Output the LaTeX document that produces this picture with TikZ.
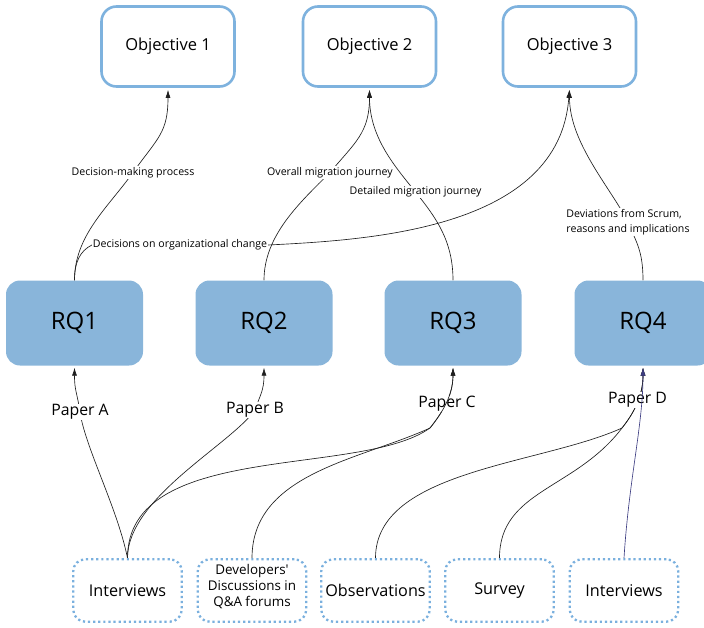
\documentclass[tikz,border=0pt]{standalone}
\usepackage{fontspec}
\setmainfont{Open Sans}[Ligatures=TeXOff]
\usetikzlibrary{arrows.meta}

\definecolor{objline}{RGB}{126,178,222}
\definecolor{rqfill}{RGB}{137,181,218}
\definecolor{srcline}{RGB}{122,176,222}
\definecolor{navyline}{RGB}{62,62,130}

\pgfdeclarelayer{edges}
\pgfsetlayers{edges,main}

\tikzset{
  objbox/.style={draw=objline, line width=2.6pt, rounded corners=15pt, fill=white,
    minimum width=133pt, minimum height=80pt, inner sep=0pt,
    font=\fontsize{16.5}{20}\selectfont},
  rqbox/.style={fill=rqfill, rounded corners=14pt, minimum width=137pt,
    minimum height=85pt, inner sep=0pt, font=\fontsize{24}{28}\selectfont},
  srcbox/.style={draw=srcline, line width=2.3pt, dash pattern=on 2.2pt off 2.9pt,
    rounded corners=12pt, fill=white, minimum width=108.5pt, minimum height=62.5pt,
    inner sep=0pt, align=center, font=\fontsize{16.2}{19}\selectfont},
  smalltext/.style={font=\fontsize{13.4}{16}\selectfont},
  edgelbl/.style={fill=white, inner sep=0.8pt, align=left,
    font=\fontsize{10.6}{15}\selectfont},
  paperlbl/.style={fill=white, inner sep=0.8pt, font=\fontsize{15.8}{18}\selectfont},
  conn/.style={line width=0.65pt, draw=black!88},
  arr/.style={conn, -{Latex[length=8pt,width=5pt]}, shorten >=2pt},
}

\begin{document}
\begin{tikzpicture}[x=1pt,y=1pt]
\useasboundingbox (0,0) rectangle (704,-627);
\clip (0,0) rectangle (704,-627);

% objectives
\node[objbox] (obj1) at (168,-46.5) {Objective 1};
\node[objbox] (obj2) at (369.5,-46.5) {Objective 2};
\node[objbox] (obj3) at (569.5,-46.5) {Objective 3};

% research questions
\node[rqbox] (rq1) at (74.5,-323) {RQ1};
\node[rqbox] (rq2) at (264,-323) {RQ2};
\node[rqbox] (rq3) at (453,-323) {RQ3};
\node[rqbox] (rq4) at (643,-323) {RQ4};

% data sources
\node[srcbox] (src1) at (127.5,-590.5) {Interviews};
\node[srcbox, smalltext] (src2) at (252,-590.5)
  {Developers'\\Discussions in\\Q\&A forums\\[-5pt]\mbox{}};
\node[srcbox] (src3) at (375.5,-590.5) {Observations};
\node[srcbox] (src4) at (499.5,-590.5) {Survey};
\node[srcbox] (src5) at (624,-590.5) {Interviews};

% edge labels
\node[edgelbl] (lDM) at (133,-172.5) {Decision-making process};
\node[edgelbl] (lOC) at (180,-245) {Decisions on organizational change};
\node[edgelbl] (lOM) at (330,-172.5) {Overall migration journey};
\node[edgelbl] (lDT) at (415.5,-192) {Detailed migration journey};
\node[edgelbl] (lDV) at (628,-222) {Deviations from Scrum,\\reasons and implications};
\node[paperlbl] (lPA) at (80,-412) {Paper A};
\node[paperlbl] (lPB) at (255,-410) {Paper B};
\node[paperlbl] (lPC) at (447,-404) {Paper C};
\node[paperlbl] (lPD) at (637.5,-400) {Paper D};

% points where the paper connectors gather
\coordinate (joinC) at (430,-428);
\coordinate (joinD) at (622,-428);

\begin{pgfonlayer}{edges}
  % research questions to objectives
  \draw[arr] (rq1.north) .. controls +(0,45) and +(-25,-35) .. (lDM.center)
    .. controls +(25,35) and +(0,-45) .. (obj1.south);
  \draw[arr] (rq1.north) .. controls +(0,18) and +(-12,-6) .. (lOC.west)
    -- (lOC.east) .. controls +(100,5) and +(-10,-142) .. (obj3.south);
  \draw[arr] (rq2.north) .. controls +(0,45) and +(-30,-30) .. (lOM.center)
    .. controls +(25,30) and +(0,-45) .. (obj2.south);
  \draw[arr] (rq3.north) .. controls +(0,40) and +(20,-25) .. (lDT.center)
    .. controls +(-20,25) and +(0,-50) .. (obj2.south);
  \draw[arr] (rq4.north) .. controls +(0,30) and +(8,-20) .. (lDV.center)
    .. controls +(-18,35) and +(0,-55) .. (obj3.south);

  % data sources to research questions
  \draw[arr] (src1.north) .. controls +(-10,50) and +(5,-35) .. (lPA.center)
    .. controls +(-3,20) and +(0,-25) .. (rq1.south);
  \draw[arr] (src1.north) .. controls +(0,60) and +(-25,-35) .. (lPB.center)
    .. controls +(5,15) and +(0,-25) .. (rq2.south);
  \draw[arr] (src1.north) .. controls +(0,118) and +(-70,-50) .. (joinC)
    .. controls +(12,15) and +(0,-30) .. (rq3.south);
  \draw[arr] (src3.north) .. controls +(0,88) and +(-82,-37) .. (joinD)
    .. controls +(12,15) and +(0,-30) .. (rq4.south);
  \draw[arr] (src4.north) .. controls +(0,68) and +(-47,-62) .. (joinD)
    .. controls +(12,15) and +(0,-30) .. (rq4.south);
\end{pgfonlayer}

% connectors drawn across the paper labels
\draw[arr] (src2.north) .. controls +(0,85) and +(-70,-32) .. (joinC)
  .. controls +(12,15) and +(0,-30) .. (rq3.south);
\draw[arr, draw=navyline] (src5.north) .. controls +(5,80) and +(0,-60) .. (rq4.south);
\end{tikzpicture}
\end{document}
